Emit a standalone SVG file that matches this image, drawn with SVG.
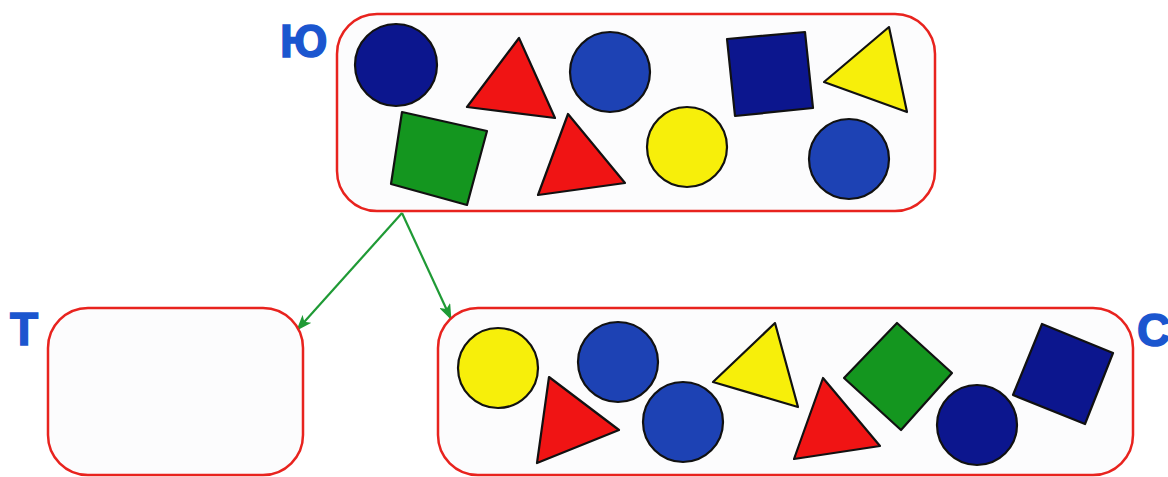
<svg xmlns="http://www.w3.org/2000/svg" width="1168" height="477" viewBox="0 0 1168 477">
<style>
.box{fill:#fcfcfd;stroke:#e8231e;stroke-width:2.5}
.lbl{font-family:"Liberation Sans",Arial,sans-serif;font-weight:bold;font-size:46px;fill:#1b56cf;stroke:#1b56cf;stroke-width:1.5}
.sh{stroke:#111;stroke-width:2.2;stroke-linejoin:round}
.navy{fill:#0c168e}
.blue{fill:#1d42b4}
.red{fill:#f01414}
.yel{fill:#f7ef0a}
.grn{fill:#14961f}
.conn{stroke:#1f9a35;stroke-width:2.2;fill:none}
</style>
<defs>
<marker id="ah" viewBox="0 0 16 12" refX="15" refY="6" markerWidth="16" markerHeight="12" markerUnits="userSpaceOnUse" orient="auto">
<path d="M0,0 L16,6 L0,12 L4,6 Z" fill="#1f9a35"/>
</marker>
</defs>
<rect width="1168" height="477" fill="#ffffff"/>
<g id="connectors">
<line class="conn" x1="402" y1="213" x2="297" y2="330" marker-end="url(#ah)"/>
<line class="conn" x1="402" y1="213" x2="451" y2="319" marker-end="url(#ah)"/>
</g>
<g id="node-U">
<rect class="box" x="337" y="14" width="598" height="197" rx="40"/>
<text class="lbl" x="280" y="57">Ю</text>
<circle class="sh navy" cx="396" cy="65" r="41"/>
<polygon class="sh red" points="519,38 467,107 555,118"/>
<circle class="sh blue" cx="610" cy="72" r="40"/>
<polygon class="sh grn" points="402,112 487,131 467,205 391,184"/>
<polygon class="sh red" points="568,114 625,183 538,195"/>
<circle class="sh yel" cx="687" cy="147" r="40"/>
<polygon class="sh navy" points="727,39 805,32 813,108 735,116"/>
<polygon class="sh yel" points="889,27 824,82 907,112"/>
<circle class="sh blue" cx="849" cy="159" r="40"/>
</g>
<g id="node-T">
<rect class="box" x="48" y="308" width="255" height="167" rx="40"/>
<text class="lbl" x="10" y="345">Т</text>
</g>
<g id="node-S">
<rect class="box" x="438" y="308" width="695" height="167" rx="40"/>
<text class="lbl" x="1137" y="346">С</text>
<circle class="sh yel" cx="498" cy="368" r="40"/>
<circle class="sh blue" cx="618" cy="362" r="40"/>
<polygon class="sh red" points="549,377 619,430 537,463"/>
<circle class="sh blue" cx="683" cy="422" r="40"/>
<polygon class="sh yel" points="775,323 713,382 798,407"/>
<polygon class="sh red" points="823,378 880,446 794,459"/>
<polygon class="sh grn" points="897,323 952,373 901,430 844,378"/>
<circle class="sh navy" cx="977" cy="425" r="40"/>
<polygon class="sh navy" points="1042,324 1113,353 1085,424 1013,395"/>
</g>
</svg>
